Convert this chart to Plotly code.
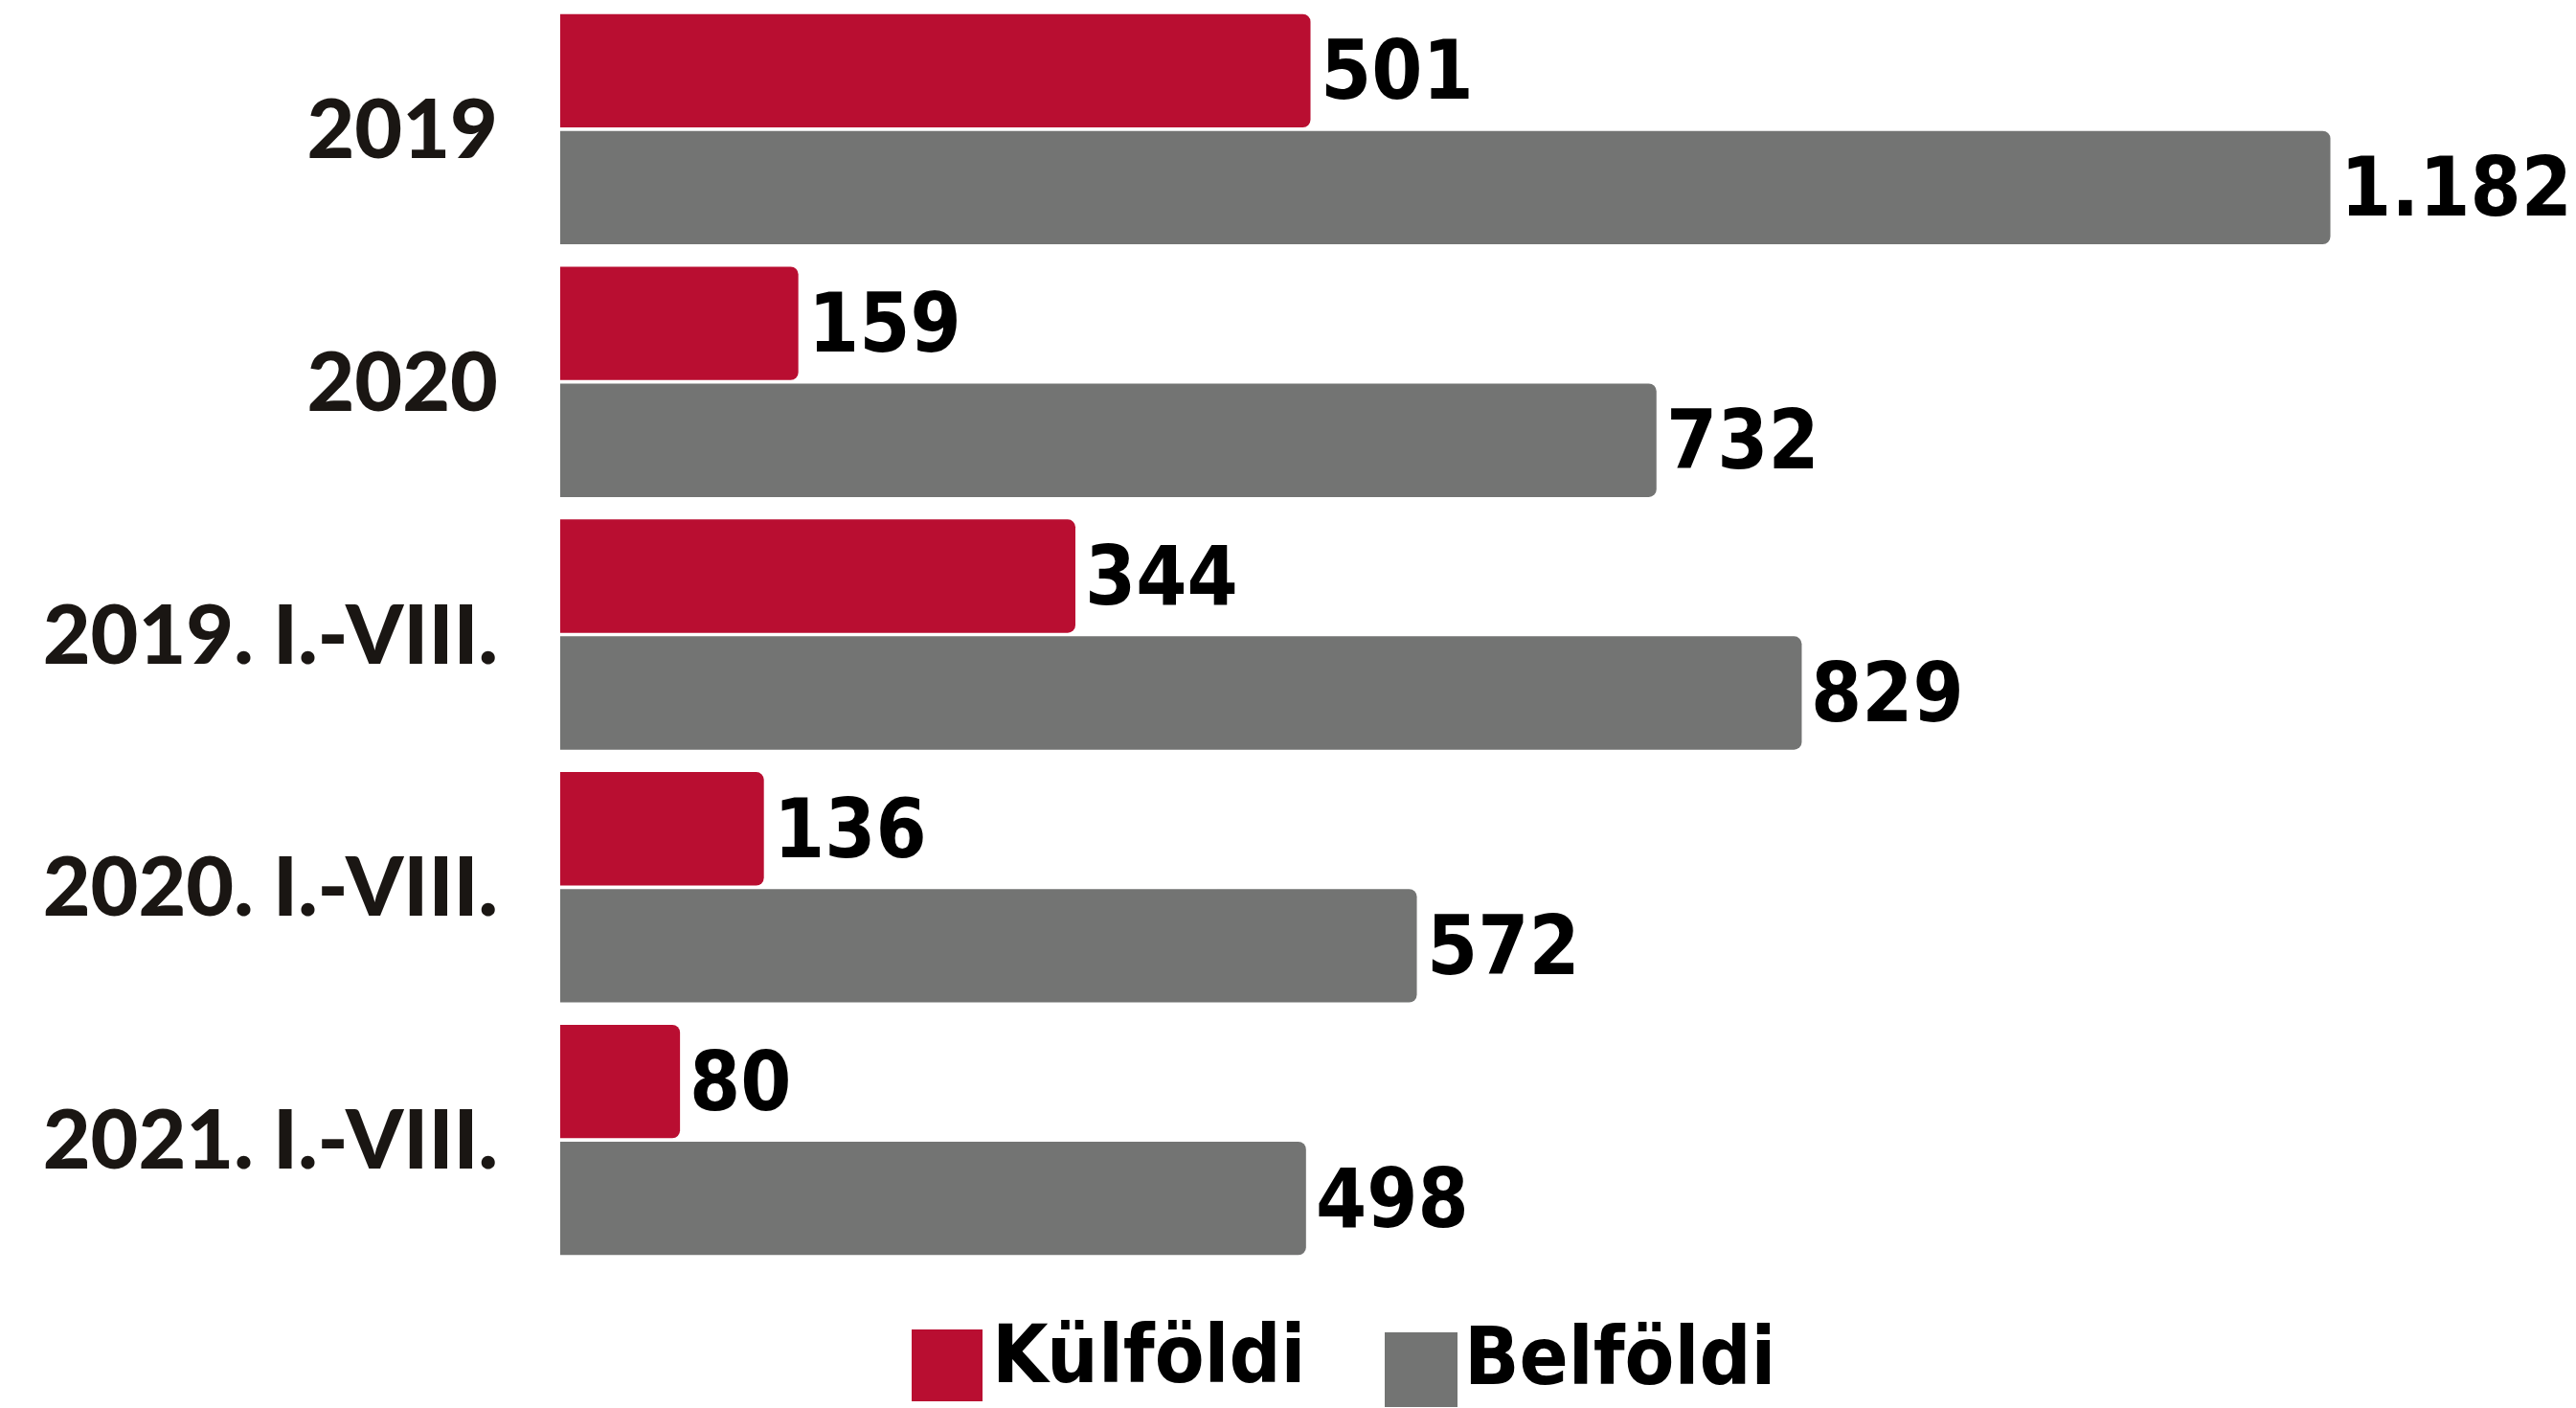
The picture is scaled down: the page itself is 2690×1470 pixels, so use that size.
import plotly.graph_objects as go

categories = ["2019", "2020", "2019. I.-VIII.", "2020. I.-VIII.", "2021. I.-VIII."]
kulfoldi = [501, 159, 344, 136, 80]
belfoldi = [1182, 732, 829, 572, 498]
series_names = ["Külföldi", "Belföldi"]

RED = "#B90E31"
GRAY = "#737473"
W, H = 2690, 1470
ML, MR, MT, MB = 585, 0, 3, 148
PW, PH = W - ML - MR, H - MT - MB
XMAX = 1346
VAL_FAMILY = "DejaVu Sans Condensed, Liberation Sans Narrow, sans-serif"


def fmt(v):
    return f"{v:,}".replace(",", ".")


def px_x(x):
    return (x - ML) / PW


def px_y(y):
    return (H - MB - y) / PH


fig = go.Figure()
for name, vals, col in [(series_names[0], kulfoldi, RED), (series_names[1], belfoldi, GRAY)]:
    fig.add_trace(go.Bar(
        name=name, y=categories, x=vals, orientation="h",
        marker=dict(color=col, cornerradius=8, line=dict(width=0)),
        showlegend=False, hoverinfo="x+y",
    ))

VAL_FONT = dict(family=VAL_FAMILY, size=85, color="#000000", weight="bold")
for vals, shift in [(kulfoldi, 61), (belfoldi, -61)]:
    for i, v in enumerate(vals):
        fig.add_annotation(x=v, y=i, text=fmt(v), showarrow=False, xanchor="left",
                           yanchor="middle", xshift=8, yshift=shift, font=VAL_FONT)

# manual legend
legend_items = [
    (series_names[0], RED, 952, 1026, 1388, 1463, 1034, 1414),
    (series_names[1], GRAY, 1446, 1522, 1391, 1469, 1527, 1416),
]
for name, col, x0, x1, y0, y1, tx, ty in legend_items:
    fig.add_shape(type="rect", xref="paper", yref="paper",
                  x0=px_x(x0), x1=px_x(x1), y0=px_y(y1), y1=px_y(y0),
                  fillcolor=col, line=dict(width=0))
    fig.add_annotation(xref="paper", yref="paper", x=px_x(tx), y=px_y(ty),
                       text=name, showarrow=False, xanchor="left", yanchor="middle",
                       font=dict(family=VAL_FAMILY, size=84, color="#000000", weight="bold"))

fig.update_layout(
    width=W, height=H,
    margin=dict(l=ML, r=MR, t=MT, b=MB),
    paper_bgcolor="white", plot_bgcolor="white",
    barmode="group", bargap=0.075, bargroupgap=0.03,
    xaxis=dict(range=[0, XMAX], visible=False, fixedrange=True),
    yaxis=dict(type="category", range=[len(categories) - 0.5, -0.5], showgrid=False,
               zeroline=False, showline=False, ticks="", ticklabelstandoff=64,
               tickfont=dict(family="Lato", size=86, color="#1a1613", weight=900)),
)

fig.write_html("out.html")
